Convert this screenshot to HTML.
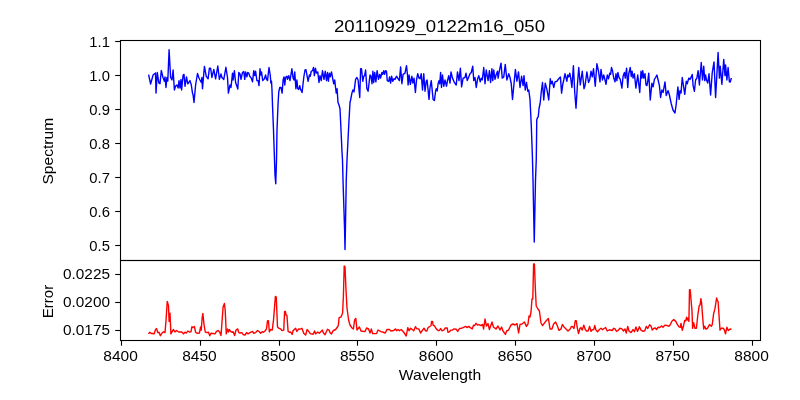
<!DOCTYPE html>
<html><head><meta charset="utf-8"><title>20110929_0122m16_050</title>
<style>html,body{margin:0;padding:0;background:#fff;}body{width:800px;height:400px;overflow:hidden;font-family:"Liberation Sans",sans-serif;}</style>
</head><body>
<svg width="800" height="400" viewBox="0 0 800 400" style="display:block">
<rect width="800" height="400" fill="#fff"/>
<polyline fill="none" stroke="#0000ff" stroke-width="1.4" stroke-linejoin="round" stroke-linecap="butt" points="148.60,74.60 150.60,84.00 153.10,75.00 155.50,73.00 156.00,93.10 157.30,72.50 158.80,83.00 160.00,83.70 161.30,70.50 163.00,77.50 164.40,81.20 165.00,77.00 166.00,87.50 166.90,77.50 167.80,81.00 169.10,49.70 170.60,77.50 172.00,80.00 173.10,70.00 174.40,90.00 175.60,86.00 176.90,85.00 178.10,88.00 179.00,80.60 180.00,88.00 181.00,79.40 181.60,90.00 183.10,75.00 184.00,74.40 185.00,86.30 186.50,76.90 187.80,83.80 188.80,82.50 190.00,80.60 191.30,85.00 192.50,93.10 193.10,95.00 194.00,102.50 195.60,85.00 197.50,73.50 198.80,77.50 200.00,80.00 201.30,82.50 201.90,77.50 202.50,88.80 204.40,66.50 206.30,76.30 208.10,78.80 209.40,68.10 210.60,68.10 211.90,77.50 213.80,69.40 215.60,78.80 217.80,66.00 219.40,79.40 221.00,74.00 221.90,77.50 223.80,79.40 225.90,67.30 227.50,77.50 228.40,93.10 230.00,85.00 231.00,87.50 232.50,73.10 233.10,80.00 234.40,70.60 235.60,82.50 236.90,86.30 237.80,89.00 238.80,72.50 240.00,74.00 241.00,79.40 242.50,72.50 243.75,71.50 244.75,79.40 245.60,71.90 246.90,76.90 247.75,72.50 248.75,73.10 249.75,76.25 251.25,78.10 252.50,81.90 253.75,70.60 254.75,75.60 255.60,71.25 256.90,80.60 258.10,80.60 259.00,85.60 260.00,68.75 261.00,75.00 261.50,71.90 262.75,80.60 264.40,78.75 265.60,75.00 266.50,79.40 267.50,80.60 269.00,67.50 270.25,75.00 270.90,83.10 271.50,81.25 272.00,90.00 272.50,105.00 273.50,130.00 274.50,160.00 275.00,175.00 275.75,183.75 276.50,160.00 277.00,130.00 278.00,105.00 278.75,92.00 279.75,87.50 281.00,87.50 282.10,93.10 283.10,80.00 284.00,76.90 284.75,85.00 285.60,77.50 286.90,76.25 287.50,79.40 288.75,75.60 290.00,80.60 291.90,68.75 293.10,78.10 294.00,80.00 294.75,71.90 295.90,88.75 296.90,80.00 297.75,88.75 298.75,89.40 299.75,85.60 300.60,89.40 302.10,92.50 303.75,77.50 305.00,70.00 306.00,69.75 307.25,76.90 308.10,81.25 309.40,75.00 310.25,76.25 311.25,71.25 312.50,70.60 313.50,67.50 314.40,75.60 315.40,68.10 316.50,73.10 317.75,71.90 319.00,82.50 320.00,75.60 321.25,80.60 322.50,70.60 324.00,79.40 325.25,71.25 326.50,80.60 327.50,72.50 328.40,81.25 329.40,73.10 330.25,76.90 331.50,71.90 332.75,78.75 333.75,83.75 334.75,80.00 335.40,86.25 336.25,93.10 337.10,88.75 338.00,102.50 339.00,105.00 340.00,108.75 341.00,130.00 342.00,152.00 342.50,160.00 343.00,180.00 344.60,230.00 345.00,249.50 345.40,230.00 346.25,180.00 347.00,160.00 347.50,150.00 348.75,125.00 350.00,102.50 350.60,100.00 351.90,93.10 352.90,90.00 354.00,91.90 355.60,79.40 356.90,77.50 358.10,80.00 359.75,97.50 360.60,68.75 361.50,68.75 362.75,81.25 363.75,76.25 364.60,75.60 365.60,70.00 366.90,88.75 368.10,91.25 370.00,75.00 371.00,76.25 372.00,83.75 372.90,71.25 373.75,82.50 374.75,72.50 375.90,81.90 377.10,70.60 378.50,79.40 379.75,74.40 380.60,78.10 381.90,72.50 382.75,74.40 383.75,70.60 384.60,74.40 385.60,70.60 386.50,71.25 387.25,80.60 388.75,81.25 389.60,76.90 390.60,83.10 391.60,76.25 392.75,81.25 394.00,78.75 395.00,79.40 396.50,76.25 397.75,78.10 399.40,80.60 400.60,66.90 401.90,83.75 403.10,74.40 405.00,73.10 406.50,65.60 407.50,75.00 408.10,85.00 409.10,75.00 410.40,84.40 411.90,76.25 412.90,83.10 414.00,78.10 415.40,92.50 416.50,80.00 417.75,73.75 419.00,78.10 420.00,78.75 421.25,73.75 422.50,90.00 423.75,73.75 425.00,91.25 426.25,81.25 427.10,80.00 428.10,90.00 429.00,99.40 430.00,87.50 431.25,80.60 433.10,99.40 434.40,100.60 435.60,91.25 436.25,88.75 437.20,91.00 438.10,83.75 439.00,80.60 439.75,83.75 440.60,72.50 441.50,87.50 442.50,75.00 443.75,86.25 445.00,80.00 446.50,86.25 447.50,80.60 448.75,75.60 450.00,83.10 451.00,71.90 452.50,78.10 454.40,82.50 456.25,85.00 457.50,71.90 459.00,80.60 460.40,68.10 461.60,86.90 463.10,78.10 465.00,77.50 466.00,73.10 467.25,80.60 468.75,76.90 470.00,73.75 471.25,72.50 472.75,66.25 473.75,80.60 475.00,77.50 476.25,87.50 477.50,79.40 478.75,75.60 480.25,81.90 481.25,78.10 482.25,80.00 483.75,67.50 485.00,83.75 486.25,70.00 488.10,80.60 489.40,70.60 490.60,82.50 491.90,68.75 492.75,80.60 493.75,70.00 495.00,79.40 496.25,74.40 497.50,71.25 498.10,78.10 499.40,70.60 501.00,63.10 502.25,78.10 503.75,76.90 505.25,64.40 506.90,80.00 508.75,73.75 510.00,77.50 511.25,83.75 512.50,99.50 513.75,86.25 515.40,69.40 516.90,81.25 518.50,71.90 520.00,87.50 521.60,76.25 523.10,85.60 524.00,75.60 525.25,90.00 526.50,82.50 527.75,91.25 528.75,90.00 530.00,99.40 531.25,125.00 532.00,145.00 532.50,160.00 533.00,180.00 534.25,242.00 535.50,180.00 536.25,160.00 536.50,142.50 536.75,120.00 537.50,117.50 538.25,117.00 539.00,108.75 540.00,104.00 540.50,100.00 541.25,92.00 542.50,82.50 543.75,100.00 545.25,83.10 546.90,89.40 548.75,100.00 550.25,78.75 551.25,83.75 552.25,81.25 553.75,87.50 555.00,81.90 556.90,81.25 558.75,78.75 560.40,76.90 561.60,93.10 562.75,84.40 563.75,80.00 565.00,73.75 566.90,81.25 567.75,75.00 568.75,76.90 569.75,73.10 570.60,77.50 571.90,87.50 573.40,65.60 574.75,92.50 576.00,108.20 577.50,83.75 578.75,67.50 580.25,85.00 582.25,71.25 584.00,88.75 585.00,85.60 586.90,71.90 588.50,82.50 589.75,79.40 591.00,71.25 592.25,76.90 593.50,68.75 595.25,86.25 596.90,63.75 598.50,71.25 600.00,81.90 601.00,69.40 602.50,80.00 603.75,75.00 604.75,78.75 606.00,84.40 607.25,75.00 608.50,78.75 609.75,73.10 610.60,74.40 611.50,67.50 612.50,70.60 613.75,78.10 615.00,81.90 616.00,73.75 616.90,80.60 617.90,72.50 619.00,77.50 620.25,79.40 621.90,88.10 623.10,76.25 624.40,72.50 625.25,78.10 626.60,68.10 627.75,87.50 628.75,73.75 630.25,67.50 631.25,76.50 632.10,71.25 633.10,78.10 634.40,73.75 635.90,88.10 637.75,75.00 639.75,92.50 641.00,71.25 641.90,78.10 642.75,70.60 643.75,78.10 645.00,73.75 646.00,85.00 646.90,85.60 647.75,81.25 648.75,73.10 650.25,100.00 651.90,83.10 653.10,86.90 654.40,79.40 655.60,77.50 656.90,75.00 658.10,80.00 659.40,85.60 660.60,97.50 661.90,90.00 663.10,92.50 665.00,81.90 666.25,95.60 668.10,90.60 669.40,95.00 671.25,103.75 673.00,110.00 675.00,113.00 676.25,103.75 677.90,86.90 679.10,99.40 680.00,90.60 681.00,93.10 682.25,77.50 684.75,94.40 686.25,81.25 687.25,83.75 688.75,78.10 690.00,79.40 691.25,76.90 692.25,74.40 693.10,85.60 694.40,91.25 695.60,80.00 696.90,78.10 698.10,70.60 699.40,85.00 701.25,62.50 702.50,80.00 703.75,66.25 704.75,80.60 705.60,75.00 706.50,80.00 707.75,83.10 709.00,73.75 710.60,95.00 712.25,72.50 714.00,61.90 715.60,97.50 718.10,52.50 719.40,78.10 720.25,66.25 721.90,84.40 723.75,59.40 725.00,75.60 725.60,65.00 726.90,80.00 728.10,67.50 729.40,81.90 730.20,82.00 731.40,78.00"/>
<polyline fill="none" stroke="#ff0000" stroke-width="1.4" stroke-linejoin="round" stroke-linecap="butt" points="148.50,333.90 149.75,332.25 151.25,333.50 152.50,333.50 154.00,333.90 155.60,329.50 156.60,328.60 157.75,332.60 159.00,332.25 160.40,335.75 161.90,333.25 163.50,331.75 165.00,332.60 166.00,320.75 167.25,301.40 168.50,305.75 169.10,321.40 170.00,313.25 170.90,333.90 171.90,332.00 173.50,329.50 175.00,332.00 176.50,330.50 178.75,332.00 181.90,332.00 183.50,333.90 185.00,332.25 186.50,333.00 187.75,331.00 189.40,332.00 191.00,331.75 191.90,326.75 193.10,327.60 194.40,326.40 195.60,332.25 196.90,333.25 199.40,333.00 200.60,327.00 201.25,330.10 202.10,318.25 202.90,313.50 204.00,324.50 205.25,332.00 206.90,332.60 208.50,332.25 209.75,335.75 211.00,333.25 213.10,333.50 215.00,333.90 216.50,331.40 218.10,330.50 219.75,332.25 221.00,335.50 221.90,323.25 223.10,307.00 224.40,303.50 225.25,310.75 226.25,333.90 227.50,328.90 228.50,332.00 229.40,329.50 230.60,331.40 231.90,332.25 233.10,331.75 234.60,335.50 236.00,330.10 237.75,328.90 238.75,332.60 240.00,333.00 241.90,332.60 243.10,334.50 245.00,335.10 246.50,332.60 248.10,333.90 250.00,332.60 252.50,331.40 253.75,333.25 255.60,332.60 257.50,330.50 259.40,331.75 260.60,333.25 262.25,331.75 263.50,332.25 265.00,331.00 266.50,328.90 267.50,320.75 268.40,320.75 269.40,332.00 270.60,329.50 272.25,330.10 273.50,320.10 275.40,296.40 276.25,297.00 277.50,327.00 278.75,328.25 280.60,328.90 281.90,330.50 283.75,330.10 284.60,311.40 285.40,311.40 286.00,315.10 286.90,315.10 288.10,331.40 289.40,332.25 290.60,332.00 292.10,334.50 293.10,330.75 295.60,328.25 296.90,331.40 298.75,328.90 300.00,329.25 301.90,328.25 303.75,333.25 305.60,335.10 307.10,329.50 308.75,331.40 310.25,333.60 313.10,334.25 314.60,331.00 315.60,333.90 317.75,332.00 319.40,333.25 322.25,330.10 323.50,333.00 325.00,334.75 327.50,329.25 329.00,330.10 330.00,332.60 331.50,333.90 333.10,330.75 335.60,329.50 337.50,327.00 338.40,325.10 339.10,317.60 341.00,317.00 342.60,313.00 343.40,296.00 344.20,266.00 345.00,267.00 346.00,290.00 347.00,308.00 348.60,320.00 350.00,325.00 352.00,328.00 353.40,329.00 354.60,320.00 355.80,318.40 357.00,330.00 359.40,327.00 361.00,331.00 365.00,331.60 366.60,328.00 368.60,329.00 370.00,333.00 371.40,329.00 372.60,333.60 376.60,333.60 378.00,330.00 381.00,331.60 382.50,332.00 385.25,333.00 386.90,329.50 389.40,329.50 391.00,331.00 393.75,330.50 395.60,328.90 396.60,330.75 398.10,329.50 399.40,330.75 401.25,329.50 403.75,332.25 406.25,336.00 407.75,327.60 409.00,330.75 410.60,328.25 412.25,329.50 413.75,330.75 415.40,326.75 416.90,328.90 418.75,328.90 420.60,333.00 422.50,330.10 424.00,328.25 425.60,330.75 426.90,331.00 428.10,327.60 429.40,326.75 431.00,325.75 431.60,321.40 432.50,321.40 433.10,325.10 434.40,325.75 436.25,328.90 438.10,330.50 439.40,330.50 440.60,328.50 441.90,330.75 443.75,330.10 445.25,328.00 447.25,328.00 447.90,332.25 449.40,331.75 451.00,330.10 452.50,330.10 453.75,328.90 456.25,329.25 457.75,331.40 459.40,328.50 461.25,328.25 463.10,327.60 465.60,326.40 467.25,327.60 468.75,326.40 470.25,327.60 472.25,328.90 473.50,325.10 474.60,325.75 476.00,323.25 477.50,325.10 479.00,324.60 481.00,325.60 482.60,324.40 483.60,329.00 485.00,319.00 486.40,326.00 488.00,323.60 489.40,329.60 492.00,322.00 493.40,327.00 496.00,329.00 498.00,326.00 500.00,330.00 501.60,327.00 503.00,331.00 505.40,334.40 506.60,331.00 508.60,330.00 511.00,325.00 513.00,324.00 515.00,325.00 517.00,323.60 518.60,333.00 520.00,324.40 522.00,324.00 524.40,322.00 526.40,326.40 528.00,324.00 529.00,316.00 530.00,317.00 531.00,312.00 532.00,299.00 532.80,299.00 533.60,264.00 534.40,264.00 535.40,290.00 536.20,306.00 538.00,309.00 539.40,311.00 541.00,323.00 542.60,325.60 544.00,323.60 546.00,321.00 548.40,318.40 550.00,329.00 552.00,329.00 553.60,324.00 555.60,322.00 557.40,326.00 559.00,330.40 561.00,329.00 562.40,324.40 564.00,327.00 566.00,329.00 568.00,331.00 570.00,329.25 571.50,326.40 572.75,326.75 574.00,328.50 575.25,320.75 576.25,320.75 577.25,327.60 578.50,333.50 580.00,328.25 581.00,327.60 582.25,330.10 583.75,325.10 585.25,329.50 586.50,331.00 588.10,331.00 589.60,326.40 591.00,331.40 592.25,329.75 593.75,329.50 594.75,325.50 596.00,330.10 597.50,331.75 599.40,329.50 601.00,328.25 602.50,329.75 604.00,328.50 605.60,327.60 607.25,331.00 609.40,329.75 612.25,330.50 613.75,328.25 615.00,328.90 616.50,331.40 618.10,330.50 620.00,328.25 621.90,328.90 623.50,331.00 625.00,328.90 626.25,333.00 627.75,326.40 629.00,331.00 631.00,332.60 633.10,329.50 634.40,331.75 636.00,327.00 637.50,331.40 639.40,326.75 641.00,330.10 643.10,331.40 644.75,330.75 646.25,326.40 647.75,328.50 649.60,324.75 651.00,326.00 652.25,330.10 654.00,328.25 655.25,328.00 656.50,329.50 658.10,327.25 659.75,327.60 661.40,325.90 663.00,327.30 664.80,325.10 666.90,325.50 668.90,326.20 670.30,324.80 671.70,321.40 673.70,319.60 675.80,321.40 677.20,324.20 679.00,326.90 680.30,327.30 681.00,323.50 682.30,330.30 683.60,325.50 684.70,320.40 685.80,321.00 686.50,317.30 687.50,320.00 688.20,318.00 688.90,321.40 689.50,289.80 690.20,289.80 691.30,302.90 692.00,311.10 692.60,328.30 693.70,322.80 695.00,328.30 696.40,328.30 697.80,315.20 699.20,305.60 700.10,304.90 700.90,298.70 701.60,302.90 702.60,316.60 703.70,329.00 704.70,326.20 706.00,329.20 707.40,328.30 709.50,324.60 711.50,326.20 712.20,324.80 713.60,313.90 715.00,308.40 716.60,298.00 717.40,300.80 718.10,301.50 719.10,316.60 720.00,330.10 721.10,328.30 723.20,328.30 724.30,329.70 725.50,333.80 726.90,327.30 728.40,330.60 730.10,329.00 731.40,329.20"/>
<g fill="none" stroke="#000" stroke-width="1.1" stroke-linecap="square">
<rect x="120.5" y="40.5" width="640" height="220"/>
<rect x="120.5" y="260.5" width="640" height="80"/>
</g>
<g stroke="#000" stroke-width="1.1">
<line x1="121.50" y1="340.5" x2="121.50" y2="345.7"/>
<line x1="200.50" y1="340.5" x2="200.50" y2="345.7"/>
<line x1="279.50" y1="340.5" x2="279.50" y2="345.7"/>
<line x1="357.50" y1="340.5" x2="357.50" y2="345.7"/>
<line x1="436.50" y1="340.5" x2="436.50" y2="345.7"/>
<line x1="515.50" y1="340.5" x2="515.50" y2="345.7"/>
<line x1="594.50" y1="340.5" x2="594.50" y2="345.7"/>
<line x1="673.50" y1="340.5" x2="673.50" y2="345.7"/>
<line x1="752.50" y1="340.5" x2="752.50" y2="345.7"/>
<line x1="115.2" y1="41.50" x2="120.5" y2="41.50"/>
<line x1="115.2" y1="75.50" x2="120.5" y2="75.50"/>
<line x1="115.2" y1="109.50" x2="120.5" y2="109.50"/>
<line x1="115.2" y1="143.50" x2="120.5" y2="143.50"/>
<line x1="115.2" y1="177.50" x2="120.5" y2="177.50"/>
<line x1="115.2" y1="211.50" x2="120.5" y2="211.50"/>
<line x1="115.2" y1="245.50" x2="120.5" y2="245.50"/>
<line x1="115.2" y1="274.50" x2="120.5" y2="274.50"/>
<line x1="115.2" y1="302.50" x2="120.5" y2="302.50"/>
<line x1="115.2" y1="330.50" x2="120.5" y2="330.50"/>
</g>
</svg>
<svg width="800" height="400" viewBox="0 0 800 400" style="position:absolute;left:0;top:0;display:block;opacity:0.999;will-change:opacity">
<g font-family="'Liberation Sans', sans-serif" fill="#000">
<text x="120.55" y="361.2" font-size="14.1" text-anchor="middle" textLength="34.5" lengthAdjust="spacingAndGlyphs">8400</text>
<text x="199.43" y="361.2" font-size="14.1" text-anchor="middle" textLength="34.5" lengthAdjust="spacingAndGlyphs">8450</text>
<text x="278.30" y="361.2" font-size="14.1" text-anchor="middle" textLength="34.5" lengthAdjust="spacingAndGlyphs">8500</text>
<text x="357.18" y="361.2" font-size="14.1" text-anchor="middle" textLength="34.5" lengthAdjust="spacingAndGlyphs">8550</text>
<text x="436.05" y="361.2" font-size="14.1" text-anchor="middle" textLength="34.5" lengthAdjust="spacingAndGlyphs">8600</text>
<text x="514.92" y="361.2" font-size="14.1" text-anchor="middle" textLength="34.5" lengthAdjust="spacingAndGlyphs">8650</text>
<text x="593.80" y="361.2" font-size="14.1" text-anchor="middle" textLength="34.5" lengthAdjust="spacingAndGlyphs">8700</text>
<text x="672.67" y="361.2" font-size="14.1" text-anchor="middle" textLength="34.5" lengthAdjust="spacingAndGlyphs">8750</text>
<text x="751.55" y="361.2" font-size="14.1" text-anchor="middle" textLength="34.5" lengthAdjust="spacingAndGlyphs">8800</text>
<text x="109.9" y="46.90" font-size="14.1" text-anchor="end" textLength="20.6" lengthAdjust="spacingAndGlyphs">1.1</text>
<text x="109.9" y="80.90" font-size="14.1" text-anchor="end" textLength="20.6" lengthAdjust="spacingAndGlyphs">1.0</text>
<text x="109.9" y="114.90" font-size="14.1" text-anchor="end" textLength="20.6" lengthAdjust="spacingAndGlyphs">0.9</text>
<text x="109.9" y="148.90" font-size="14.1" text-anchor="end" textLength="20.6" lengthAdjust="spacingAndGlyphs">0.8</text>
<text x="109.9" y="182.90" font-size="14.1" text-anchor="end" textLength="20.6" lengthAdjust="spacingAndGlyphs">0.7</text>
<text x="109.9" y="216.90" font-size="14.1" text-anchor="end" textLength="20.6" lengthAdjust="spacingAndGlyphs">0.6</text>
<text x="109.9" y="250.90" font-size="14.1" text-anchor="end" textLength="20.6" lengthAdjust="spacingAndGlyphs">0.5</text>
<text x="110" y="278.90" font-size="14.1" text-anchor="end" textLength="47.0" lengthAdjust="spacingAndGlyphs">0.0225</text>
<text x="110" y="306.90" font-size="14.1" text-anchor="end" textLength="47.0" lengthAdjust="spacingAndGlyphs">0.0200</text>
<text x="110" y="334.90" font-size="14.1" text-anchor="end" textLength="47.0" lengthAdjust="spacingAndGlyphs">0.0175</text>
<text x="439.5" y="31.9" font-size="17" text-anchor="middle" textLength="211" lengthAdjust="spacingAndGlyphs">20110929_0122m16_050</text>
<text x="440" y="379.8" font-size="14.1" text-anchor="middle" textLength="82.3" lengthAdjust="spacingAndGlyphs">Wavelength</text>
<text transform="translate(53.3,151.2) rotate(-90)" font-size="14.1" text-anchor="middle" textLength="66.8" lengthAdjust="spacingAndGlyphs">Spectrum</text>
<text transform="translate(53.3,301.5) rotate(-90)" font-size="14.1" text-anchor="middle" textLength="33.5" lengthAdjust="spacingAndGlyphs">Error</text>
</g>
</svg>
</body></html>
